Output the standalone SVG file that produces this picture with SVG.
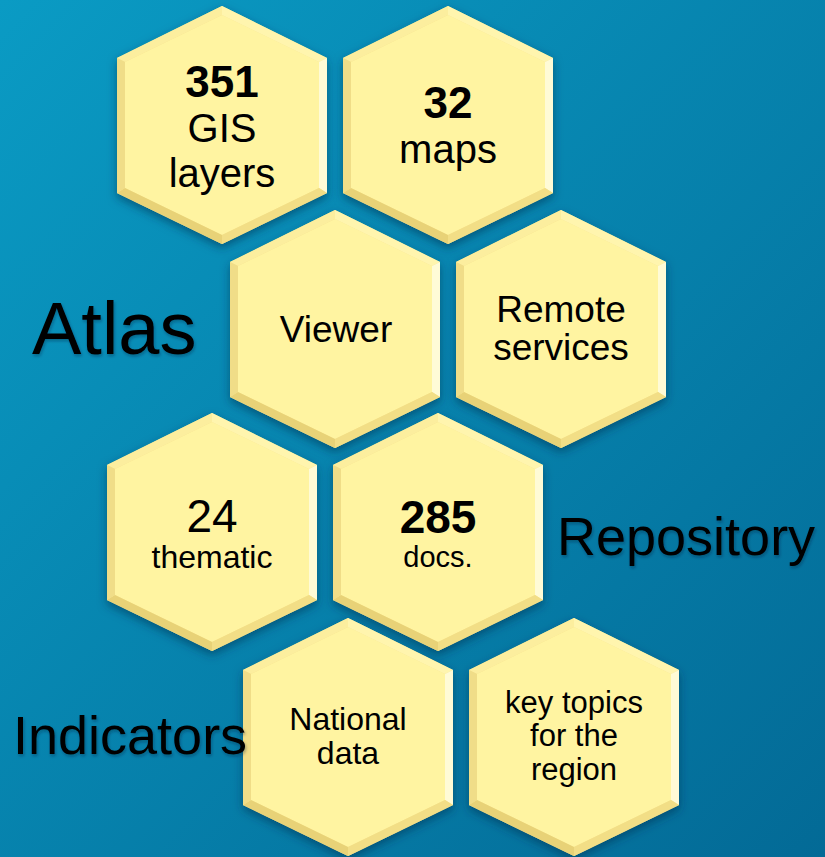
<svg xmlns="http://www.w3.org/2000/svg" xmlns:xlink="http://www.w3.org/1999/xlink" width="825" height="857" viewBox="0 0 825 857">
  <defs>
    <linearGradient id="bg" x1="0" y1="0" x2="1" y2="1">
      <stop offset="0" stop-color="#0A9BC4"/>
      <stop offset="1" stop-color="#036A96"/>
    </linearGradient>
    <filter id="shadow" x="-20%" y="-20%" width="140%" height="140%">
      <feDropShadow dx="0" dy="4" stdDeviation="5" flood-color="#00304F" flood-opacity="0.55"/>
    </filter>
    <filter id="tshadow" x="-10%" y="-20%" width="120%" height="140%">
      <feDropShadow dx="1" dy="2" stdDeviation="1.5" flood-color="#002233" flood-opacity="0.35"/>
    </filter>
    <g id="hexshape">
      <polygon points="105,0 210,52 210,187 105,238 0,187 0,52" fill="#F6E48E"/>
      <polygon class="face" points="105,9 202,56 202,182 105,229 8,182 8,56"/>
      <polygon points="105,0 0,52 8,56 105,9" fill="#FCEE9E"/>
      <polygon points="105,0 210,52 202,56 105,9" fill="#FFF5AE"/>
      <polygon points="210,52 210,187 202,182 202,56" fill="#FFFBD6"/>
      <polygon points="210,187 105,238 105,229 202,182" fill="#F2DE86"/>
      <polygon points="105,238 0,187 8,182 105,229" fill="#E8D277"/>
      <polygon points="0,187 0,52 8,56 8,182" fill="#F0DD88"/>
    </g>
  </defs>
  <style>
    .face { fill: #FFF4A1; }
    .hex { filter: url(#shadow); }
    text { font-family: "Liberation Sans", Arial, sans-serif; fill: #000; }
    .t { text-anchor: middle; }
    .b { font-weight: bold; }
    .label { filter: url(#tshadow); }
  </style>

  <rect x="0" y="0" width="825" height="857" fill="url(#bg)"/>

  <g id="connectors"/>

  <g id="node-gis-layers">
    <use class="hex" xlink:href="#hexshape" href="#hexshape" x="117" y="6"/>
    <text class="t b" x="222" y="97" font-size="44">351</text>
    <text class="t" x="222" y="142" font-size="40">GIS</text>
    <text class="t" x="222" y="187" font-size="40">layers</text>
  </g>

  <g id="node-maps">
    <use class="hex" xlink:href="#hexshape" href="#hexshape" x="343" y="6"/>
    <text class="t b" x="448" y="118" font-size="44">32</text>
    <text class="t" x="448" y="163" font-size="40">maps</text>
  </g>

  <g id="node-viewer">
    <use class="hex" xlink:href="#hexshape" href="#hexshape" x="230" y="210"/>
    <text class="t" x="336" y="342" font-size="37">Viewer</text>
  </g>

  <g id="node-remote-services">
    <use class="hex" xlink:href="#hexshape" href="#hexshape" x="456" y="210"/>
    <text class="t" x="561" y="322" font-size="37">Remote</text>
    <text class="t" x="561" y="360" font-size="37">services</text>
  </g>

  <g id="node-thematic">
    <use class="hex" xlink:href="#hexshape" href="#hexshape" x="107" y="413"/>
    <text class="t" x="212" y="532" font-size="46">24</text>
    <text class="t" x="212" y="568" font-size="32">thematic</text>
  </g>

  <g id="node-docs">
    <use class="hex" xlink:href="#hexshape" href="#hexshape" x="333" y="413"/>
    <text class="t b" x="438" y="533" font-size="46">285</text>
    <text class="t" x="438" y="567" font-size="29">docs.</text>
  </g>

  <g id="node-national-data">
    <use class="hex" xlink:href="#hexshape" href="#hexshape" x="243" y="618"/>
    <text class="t" x="348" y="730" font-size="32">National</text>
    <text class="t" x="348" y="764" font-size="32">data</text>
  </g>

  <g id="node-key-topics">
    <use class="hex" xlink:href="#hexshape" href="#hexshape" x="469" y="618"/>
    <text class="t" x="574" y="713" font-size="31">key topics</text>
    <text class="t" x="574" y="746" font-size="31">for the</text>
    <text class="t" x="574" y="780" font-size="31">region</text>
  </g>

  <g id="labels">
    <text class="label" x="32" y="354" font-size="74">Atlas</text>
    <text class="label" x="557" y="555" font-size="54">Repository</text>
    <text class="label" x="13" y="754" font-size="54">Indicators</text>
  </g>
</svg>
